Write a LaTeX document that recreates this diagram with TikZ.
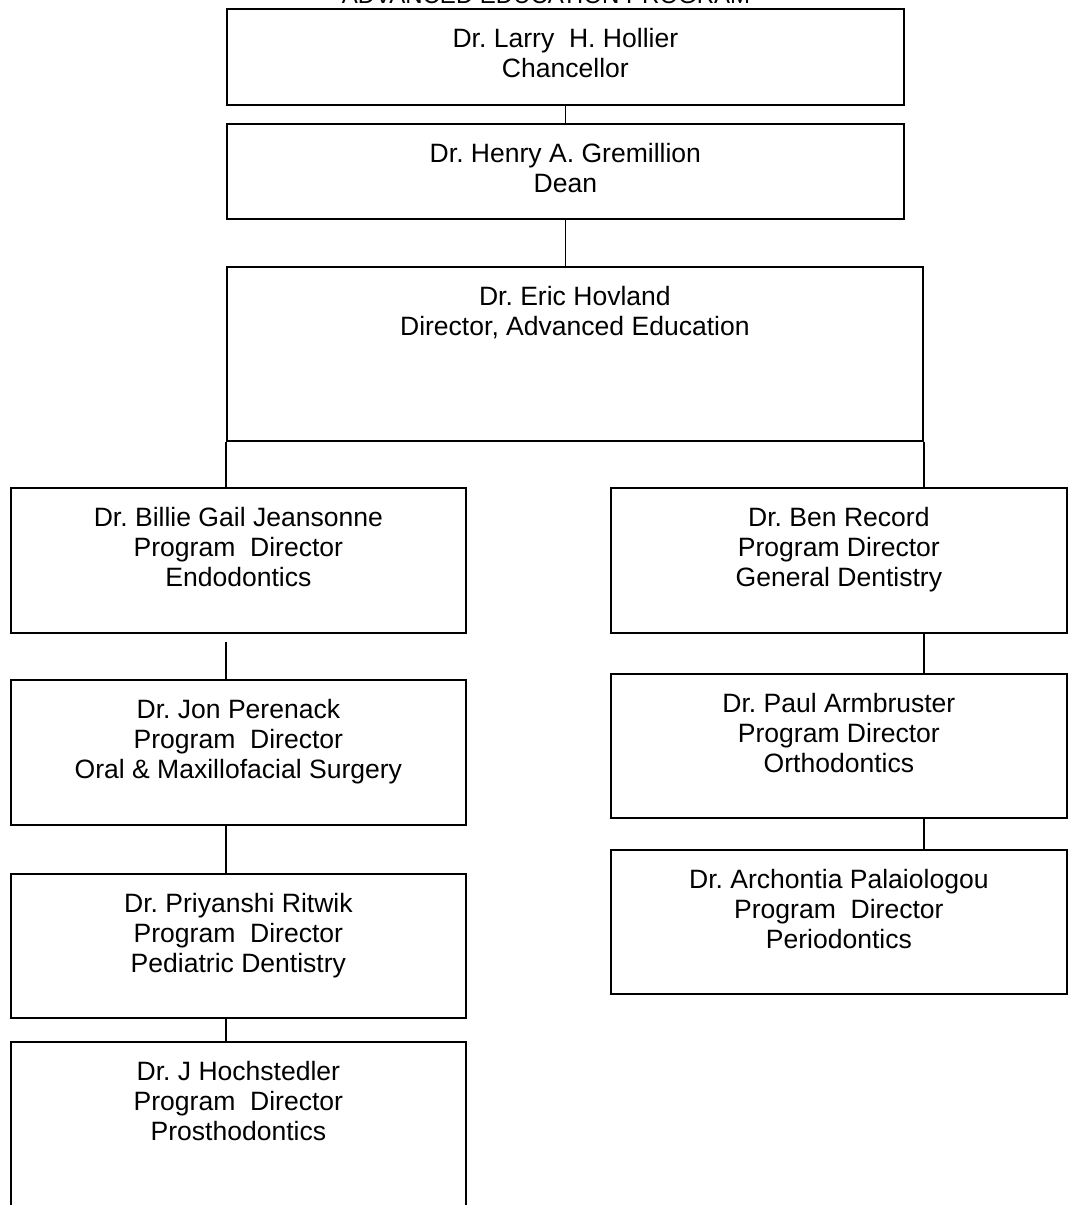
\documentclass[tikz,border=0pt]{standalone}
\usepackage{fontspec}
\setmainfont{Liberation Sans}
\frenchspacing
\newcommand{\orgfont}{\fontsize{19.9}{22.5}\selectfont}
\tikzset{
  box/.style={draw, rectangle, line width=1.3pt, anchor=north west, inner sep=0pt},
  who/.style={anchor=north, align=center, inner sep=0pt, font=\orgfont},
  link/.style={line width=1.3pt}
}
\begin{document}
\begin{tikzpicture}[x=0.75pt, y=-0.75pt]
\useasboundingbox (0,0) rectangle (1080,1205);
% title, cut off by the page edge
\node[font=\fontsize{18}{21}\selectfont, anchor=base, inner sep=0pt] (title) at (546,4) {ADVANCED EDUCATION PROGRAM};
% top of the chart
\node[box, minimum width=677*0.75pt, minimum height=96*0.75pt] (chanc) at (226,8) {};
\node[who] (chanc-t) at ([yshift=-15pt]chanc.north) {Dr. Larry\ \ H. Hollier\\Chancellor};
\node[box, minimum width=677*0.75pt, minimum height=95*0.75pt] (dean) at (226,123) {};
\node[who] (dean-t) at ([yshift=-15pt]dean.north) {Dr. Henry A. Gremillion\\Dean};
\node[box, minimum width=696*0.75pt, minimum height=174*0.75pt] (hov) at (226,266) {};
\node[who] (hov-t) at ([yshift=-15pt]hov.north) {Dr. Eric Hovland\\Director, Advanced Education};
% left column
\node[box, minimum width=455*0.75pt, minimum height=145*0.75pt] (billie) at (10,487) {};
\node[who] (billie-t) at ([yshift=-15pt]billie.north) {Dr. Billie Gail Jeansonne\\Program\ \ Director\\Endodontics};
\node[box, minimum width=455*0.75pt, minimum height=145*0.75pt] (jon) at (10,679) {};
\node[who] (jon-t) at ([yshift=-15pt]jon.north) {Dr. Jon Perenack\\Program\ \ Director\\Oral \& Maxillofacial Surgery};
\node[box, minimum width=455*0.75pt, minimum height=144*0.75pt] (priy) at (10,873) {};
\node[who] (priy-t) at ([yshift=-15pt]priy.north) {Dr. Priyanshi Ritwik\\Program\ \ Director\\Pediatric Dentistry};
\node[box, minimum width=455*0.75pt, minimum height=180*0.75pt] (hoch) at (10,1041) {};
\node[who] (hoch-t) at ([yshift=-15pt]hoch.north) {Dr. J Hochstedler\\Program\ \ Director\\Prosthodontics};
% right column
\node[box, minimum width=456*0.75pt, minimum height=145*0.75pt] (ben) at (610,487) {};
\node[who] (ben-t) at ([yshift=-15pt]ben.north) {Dr. Ben Record\\Program Director\\General Dentistry};
\node[box, minimum width=456*0.75pt, minimum height=144*0.75pt] (paul) at (610,673) {};
\node[who] (paul-t) at ([yshift=-15pt]paul.north) {Dr. Paul Armbruster\\Program Director\\Orthodontics};
\node[box, minimum width=456*0.75pt, minimum height=144*0.75pt] (arch) at (610,849) {};
\node[who] (arch-t) at ([yshift=-15pt]arch.north) {Dr. Archontia Palaiologou\\Program\ \ Director\\Periodontics};
% connectors
\draw[link] (chanc.south) -- (dean.north);
\draw[link] (dean.south) -- (dean.south |- hov.north);
\draw[link] (hov.south west) -- (hov.south west |- billie.north);
\draw[link] (hov.south east) -- (hov.south east |- ben.north);
\draw[link] ([yshift=-6pt]billie.south -| hov.south west) -- (hov.south west |- jon.north);
\draw[link] (jon.south -| hov.south west) -- (hov.south west |- priy.north);
\draw[link] (priy.south -| hov.south west) -- (hov.south west |- hoch.north);
\draw[link] (ben.south -| hov.south east) -- (hov.south east |- paul.north);
\draw[link] (paul.south -| hov.south east) -- (hov.south east |- arch.north);
\end{tikzpicture}
\end{document}
